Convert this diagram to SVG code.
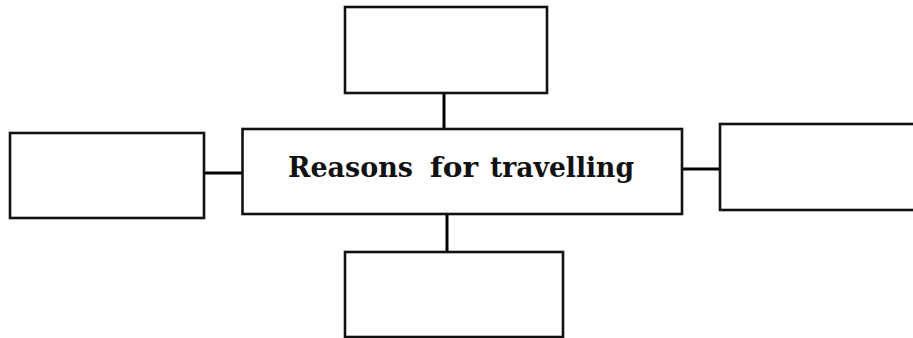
<svg xmlns="http://www.w3.org/2000/svg" width="913" height="338" viewBox="0 0 913 338">
<style>
.box{fill:#fff;stroke:#111;stroke-width:2.6}
.conn{stroke:#000;stroke-width:3;fill:none}
.lbl{font-family:"DejaVu Serif","Liberation Serif",serif;font-weight:bold;font-size:28px;fill:#111}
</style>
<rect width="913" height="338" fill="#fff"/>
<g id="connectors">
<line class="conn" x1="444" y1="93" x2="444" y2="129"/>
<line class="conn" x1="447" y1="214" x2="447" y2="252"/>
<line class="conn" x1="204" y1="173" x2="242" y2="173"/>
<line class="conn" x1="682" y1="169" x2="720" y2="169"/>
</g>
<g id="center">
<rect class="box" x="242.5" y="129" width="439.5" height="85"/>
<text class="lbl" y="177"><tspan x="288" textLength="125" lengthAdjust="spacingAndGlyphs">Reasons</tspan><tspan x="430" textLength="48" lengthAdjust="spacingAndGlyphs">for</tspan><tspan x="490" textLength="144" lengthAdjust="spacingAndGlyphs">travelling</tspan></text>
</g>
<g id="top"><rect class="box" x="345" y="7" width="202" height="86"/></g>
<g id="bottom"><rect class="box" x="345" y="252" width="218" height="85"/></g>
<g id="left"><rect class="box" x="10" y="133" width="194" height="85"/></g>
<g id="right"><rect class="box" x="720" y="124" width="200" height="86"/></g>
</svg>
